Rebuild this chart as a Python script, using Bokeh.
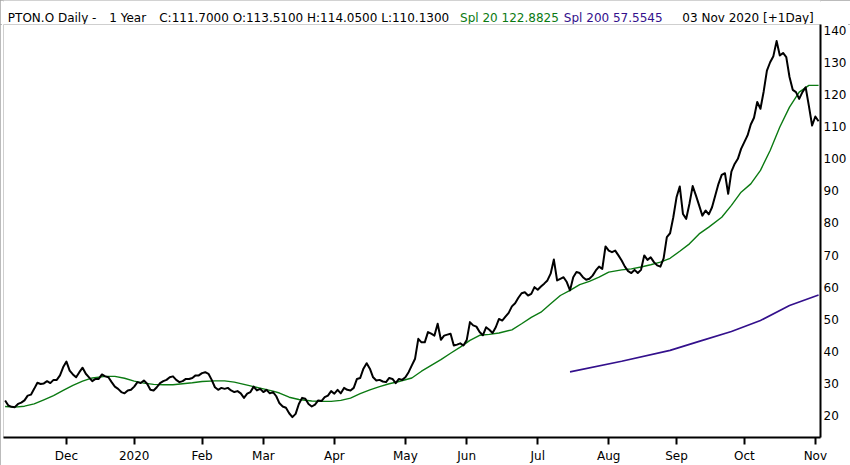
from bokeh.plotting import figure
from bokeh.layouts import column
from bokeh.models import FixedTicker, Range1d, ColumnDataSource
from bokeh.core.properties import value
from bokeh.embed import file_html
from bokeh.resources import INLINE

# ---- data (trading-day index 0 = 04 Nov 2019 ... 252 = 03 Nov 2020) ----
close_vals = [
    24.7, 23.1, 22.7, 22.6, 23.6, 24.0, 24.7, 26.2, 26.5, 28.3,
    30.2, 29.8, 30.0, 30.7, 30.1, 31.1, 31.1, 32.5, 35.1, 36.8,
    34.0, 32.8, 31.9, 33.5, 34.9, 33.0, 31.9, 30.7, 31.4, 31.4,
    32.8, 32.2, 31.9, 30.4, 29.0, 28.3, 27.3, 26.9, 27.8, 28.0,
    29.0, 30.4, 30.1, 30.9, 29.9, 28.0, 27.8, 28.8, 30.1, 30.7,
    31.1, 31.9, 32.2, 31.1, 30.4, 30.7, 31.4, 31.4, 31.7, 32.5,
    32.5, 33.2, 33.5, 33.0, 31.1, 28.8, 28.0, 28.6, 28.3, 28.6,
    27.8, 27.3, 27.6, 26.9, 25.5, 26.8, 27.3, 29.0, 27.8, 28.3,
    27.3, 28.0, 26.9, 27.3, 26.0, 23.8, 22.8, 22.4, 20.7, 19.5,
    20.5, 23.6, 25.5, 25.2, 23.6, 22.8, 23.4, 24.7, 24.5, 25.7,
    26.2, 27.6, 26.8, 28.0, 26.9, 28.6, 28.0, 27.8, 28.6, 31.4,
    31.7, 34.6, 36.3, 34.6, 31.9, 30.9, 31.1, 30.6, 30.4, 31.7,
    31.4, 30.1, 31.4, 31.1, 31.9, 33.5, 35.6, 37.7, 43.9, 42.8,
    42.8, 46.0, 45.5, 44.9, 48.6, 43.6, 44.9, 45.2, 45.5, 41.8,
    42.1, 42.5, 41.8, 43.5, 49.1, 48.1, 47.7, 46.0, 45.0, 47.5,
    46.7, 45.7, 47.5, 50.1, 49.6, 50.8, 52.0, 54.0, 55.0, 56.7,
    58.1, 58.4, 57.4, 57.9, 60.0, 59.2, 60.2, 61.1, 62.1, 64.2,
    68.6, 62.1, 62.6, 63.1, 61.6, 59.0, 63.1, 64.7, 64.4, 63.1,
    62.3, 62.6, 63.6, 65.2, 66.4, 65.7, 72.7, 71.4, 70.9, 71.4,
    69.9, 68.3, 66.4, 65.0, 64.4, 65.4, 64.4, 65.4, 69.9, 68.5,
    69.3, 67.8, 66.8, 66.4, 69.0, 75.6, 76.8, 81.8, 88.0, 91.4,
    82.8, 81.3, 86.0, 91.5, 88.6, 85.5, 82.3, 83.9, 82.7, 84.9,
    88.6, 92.2, 95.0, 95.5, 89.1, 96.0, 98.4, 100.0, 103.1, 105.2,
    107.3, 110.7, 112.8, 117.7, 115.6, 121.0, 127.5, 130.1, 132.0, 136.7,
    132.2, 133.0, 131.7, 125.5, 121.5, 120.8, 118.7, 120.8, 122.3, 116.5,
    110.4, 113.2, 111.7,
]
close_idx = list(range(len(close_vals)))

spl20_idx = [0, 3, 6, 9, 12, 15, 18, 21, 24, 27, 31, 34, 37, 40, 43, 46, 49, 52, 55, 58,
             61, 65, 68, 71, 74, 77, 80, 83, 85, 88, 91, 95, 98, 101, 104, 107, 110, 113, 116, 119,
             122, 126, 129, 132, 135, 138, 141, 144, 147, 150, 153, 157, 160, 163, 166, 169, 172, 175, 178, 181,
             184, 187, 191, 194, 197, 200, 203, 206, 209, 212, 215, 218, 222, 225, 228, 231, 234, 237, 240, 243,
             246, 249, 252]
spl20_vals = [22.8, 22.6, 22.9, 23.6, 24.9, 26.2, 27.8, 29.4, 30.7, 31.7, 32.2, 32.2, 31.6, 30.7, 30.1, 29.7, 29.6, 29.6, 29.9, 30.2,
              30.6, 30.8, 30.8, 30.4, 29.7, 29.0, 28.3, 27.6, 27.0, 25.7, 25.0, 24.5, 24.4, 24.4, 24.7, 25.4, 26.8, 28.0, 29.0, 29.9,
              30.6, 31.7, 33.8, 35.6, 37.4, 39.4, 41.3, 43.4, 45.0, 45.3, 45.7, 46.7, 48.6, 50.6, 52.2, 54.8, 57.4, 59.0, 60.8, 61.8,
              63.1, 64.7, 65.4, 65.7, 66.3, 67.0, 67.8, 69.0, 71.2, 73.5, 76.6, 78.7, 81.8, 85.5, 89.6, 92.2, 96.4, 102.6, 109.9, 116.1,
              120.8, 122.9, 122.9]

spl200_idx = [175, 191, 206, 215, 225, 234, 243, 252]
spl200_vals = [33.6, 36.9, 40.3, 43.1, 46.2, 49.6, 54.3, 57.55]

month_ticks = [19, 40, 61, 80, 102, 124, 143, 165, 187, 208, 229, 251]
month_labels = ["Dec", "2020", "Feb", "Mar", "Apr", "May", "Jun", "Jul", "Aug", "Sep", "Oct", "Nov"]
price_ticks = [20, 30, 40, 50, 60, 70, 80, 90, 100, 110, 120, 130, 140]

header_texts = ["PTON.O Daily -", "1 Year", "C:111.7000 O:113.5100 H:114.0500 L:110.1300",
                "Spl 20 122.8825", "Spl 200 57.5545", "03 Nov 2020 [+1Day]"]

FONT = "DejaVu Sans"
GREEN = "#0b7a12"
PURPLE = "#33108c"

# ---------------- header strip (pixel-like coordinates) ----------------
HW, HH = 850, 24
head = figure(width=HW, height=HH, x_range=Range1d(0, HW), y_range=Range1d(HH, 0),
              output_backend="svg", toolbar_location=None,
              min_border_left=0, min_border_right=0, min_border_top=0, min_border_bottom=0)
head.axis.visible = False
head.grid.visible = False
head.outline_line_color = None
head_src = ColumnDataSource(dict(
    x=[4.5, 110, 162, 475, 583, 843],
    y=[17.3] * 6,
    text=header_texts,
    color=["black", "black", "black", GREEN, PURPLE, "black"],
    align=["left", "left", "left", "left", "left", "right"],
))
head.text(x="x", y="y", text="text", source=head_src, text_color="color", text_align="align",
          text_baseline="alphabetic", text_font=value(FONT), text_font_size=value("12px"))

# ---------------- main chart ----------------
FW, FH = 817, 413
p = figure(frame_width=FW, frame_height=FH,
           x_range=Range1d(-0.5, 252.6), y_range=Range1d(13.14, 141.87),
           output_backend="svg", toolbar_location=None,
           y_axis_location="right",
           min_border_left=3, min_border_top=0, min_border_bottom=28, min_border_right=30)
p.outline_line_color = "#cfcfcf"
p.outline_line_width = 1
p.grid.visible = False
p.background_fill_color = "white"
p.border_fill_color = "white"

src_close = ColumnDataSource(dict(x=close_idx, y=close_vals))
src_20 = ColumnDataSource(dict(x=spl20_idx, y=spl20_vals))
src_200 = ColumnDataSource(dict(x=spl200_idx, y=spl200_vals))

p.line("x", "y", source=src_200, line_color=PURPLE, line_width=1.6)
p.line("x", "y", source=src_20, line_color=GREEN, line_width=1.4)
p.line("x", "y", source=src_close, line_color="#000000", line_width=2.0, line_join="round")

xa = p.xaxis[0]
xa.ticker = FixedTicker(ticks=month_ticks)
xa.major_label_overrides = {t: l for t, l in zip(month_ticks, month_labels)}
xa.axis_line_width = 2
xa.axis_line_color = "black"
xa.major_tick_line_width = 2
xa.major_tick_line_color = "black"
xa.major_tick_out = 7
xa.major_tick_in = 0
xa.minor_tick_line_color = None
xa.major_label_standoff = 4
xa.major_label_text_font = FONT
xa.major_label_text_font_size = "12px"
xa.major_label_text_color = "black"

ya = p.yaxis[0]
ya.ticker = FixedTicker(ticks=price_ticks)
ya.axis_line_width = 2
ya.axis_line_color = "black"
ya.major_tick_line_color = None
ya.major_tick_out = 0
ya.major_tick_in = 0
ya.minor_tick_line_color = None
ya.major_label_standoff = 3
ya.major_label_text_font = FONT
ya.major_label_text_font_size = "12px"
ya.major_label_text_color = "black"

layout = column(head, p, spacing=0)
layout.styles = {"outline": "2px solid #a4a4a4", "outline-offset": "-2px"}

open("out.html", "w").write(file_html(layout, INLINE))
